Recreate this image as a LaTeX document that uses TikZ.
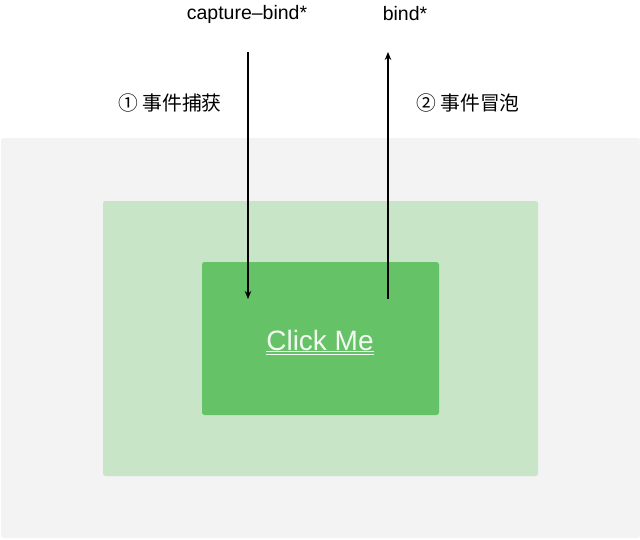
\documentclass[tikz,border=0pt]{standalone}
\usepackage{fontspec}
\setmainfont{Liberation Sans}
\newfontfamily\cjk{Noto Sans CJK SC}
\usetikzlibrary{arrows.meta}
\definecolor{outergray}{HTML}{F3F3F3}
\definecolor{midgreen}{HTML}{C9E5C7}
\definecolor{innergreen}{HTML}{66C266}
\definecolor{clicktext}{HTML}{F2FAF2}
\tikzset{
  panel/.style={draw=none, rounded corners=2.5pt},
  lbl/.style={font=\fontsize{19.5}{21}\selectfont, text=black, inner sep=0pt},
  cjklbl/.style={font=\cjk\fontsize{19.8}{22}\selectfont, text=black, inner sep=0pt},
  flow/.style={line width=1.1pt, -{Stealth[length=8pt,width=6.5pt]}},
}
\begin{document}
\begin{tikzpicture}[x=1pt,y=-1pt]
\useasboundingbox (0,0) rectangle (640,539);
\fill[white] (0,0) rectangle (640,539);
% panels
\fill[outergray, panel] (1,138) rectangle (640,538);
\fill[midgreen, panel] (103,201) rectangle (538,476);
\fill[innergreen, panel] (202,262) rectangle (439,415);
% click me
\node[inner sep=0pt, text=clicktext, font=\fontsize{28}{30}\selectfont] (click) at (320,340) {Click Me};
\draw[clicktext, line width=1pt] ([yshift=-1.5pt]click.south west) -- ([yshift=-1.5pt]click.south east);
\draw[clicktext, line width=1pt] ([yshift=-4.5pt]click.south west) -- ([yshift=-4.5pt]click.south east);
% labels
\node[lbl] (cap) at (247,14) {capture–bind*};
\node[lbl] (bind) at (405,14) {bind*};
\node[cjklbl] (l1) at (170,103) {① 事件捕获};
\node[cjklbl] (l2) at (468,103) {② 事件冒泡};
% arrows
\coordinate (capTop) at (248,52);
\coordinate (capBot) at (248,299);
\coordinate (bubBot) at (388,299);
\coordinate (bubTop) at (388,52);
\draw[flow] (capTop) -- (capBot);
\draw[flow] (bubBot) -- (bubTop);
\end{tikzpicture}
\end{document}
